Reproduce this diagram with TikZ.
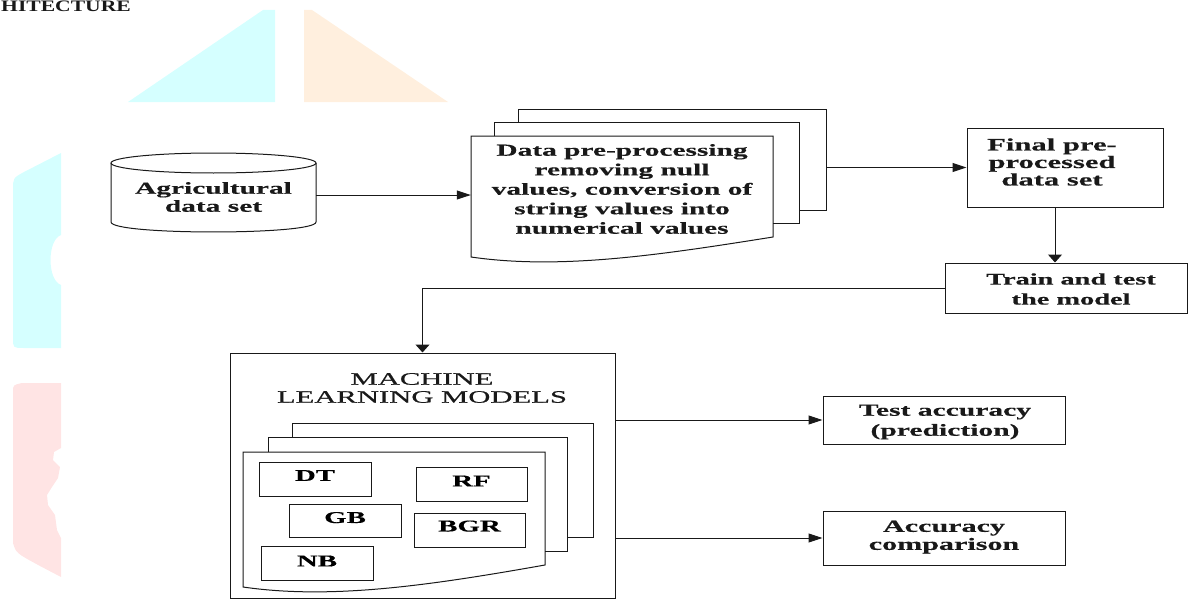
\documentclass[tikz,border=0pt]{standalone}
\usepackage{fontspec}
\newfontfamily\wf{Liberation Serif}[FakeStretch=1.75, FakeBold=0.4]
\newfontfamily\mf{Liberation Serif}[FakeStretch=1.75, FakeBold=0.6]
\newfontfamily\tf{Liberation Serif}[FakeStretch=1.35]
\usetikzlibrary{arrows.meta}
\definecolor{bgcyan}{RGB}{213,255,255}
\definecolor{bgorange}{RGB}{255,239,222}
\definecolor{bgpink}{RGB}{255,228,228}
\definecolor{ink}{RGB}{25,25,25}
\newcommand\fsz[2]{\fontsize{#1}{#2}\selectfont}
\tikzset{
  box/.style={draw=ink, line width=1pt, rectangle, inner sep=0pt},
  geo/.style={rectangle, inner sep=0pt},
  txt/.style={align=center, inner sep=0pt, text=ink},
  harr/.style={draw=ink, line width=1pt, -{Triangle[length=14pt,width=9pt]}},
  varr/.style={draw=ink, line width=1pt, -{Triangle[length=8pt,width=14pt]}},
  edge/.style={draw=ink, line width=1pt},
}
\begin{document}
\begin{tikzpicture}[x=1pt,y=-1pt]
\useasboundingbox (0,0) rectangle (1189,602);
% background fragments
\fill[bgcyan] (128,102) -- (263,10) -- (275,10) -- (275,102) -- cycle;
\fill[bgorange] (304,102) -- (304,10) -- (312,10) -- (448,102) -- cycle;
\fill[bgcyan] (61,153) -- (61,235) .. controls (47,240) and (47,280) .. (61,285) -- (61,348) -- (24,348) .. controls (13,348) .. (13,338) -- (13,190) .. controls (13,178) .. (24,172) -- cycle;
\fill[bgpink] (22,383) -- (61,383) -- (61,448) -- (54,452) -- (53,460) -- (60,467) -- (58,478) -- (52,487) -- (47,495) -- (48,505) -- (55,515) -- (57,530) -- (61,538) -- (61,577) -- (40,566) .. controls (16,553) .. (13,543) -- (13,392) .. controls (13,385) .. (22,383) -- cycle;
% title fragment
\node[anchor=base west, inner sep=0pt, text=ink, font=\tf\bfseries\fsz{16}{18}] (title) at (1,12) {HITECTURE};
% cylinder
\node[geo, minimum width=205pt, minimum height=79pt] (agri) at (213.5,192.5) {};
\draw[edge] (213.5,163) ellipse [x radius=102.5, y radius=10];
\draw[edge] (111,163) -- (111,222) .. controls (111,235.3) and (316,235.3) .. (316,222) -- (316,163);
\node[txt, font=\wf\bfseries\fsz{16.8}{18}] (agritxt) at (213.5,197) {Agricultural\\data set};
% pre-processing document stack
\node[geo, minimum width=302pt, minimum height=118pt] (prep) at (622,195) {};
\draw[edge] (518,122) -- (518,109) -- (826,109) -- (826,210) -- (799,210);
\draw[edge] (494,136) -- (494,122) -- (799,122) -- (799,223) -- (773,223);
\draw[edge] (471,136) -- (773,136) -- (773,237) .. controls (660,255) and (560,270) .. (471,257) -- cycle;
\node[txt, font=\wf\bfseries\fsz{16.8}{19.5}] (preptxt) at (622,189) {Data pre-processing\\removing null\\values, conversion of\\string values into\\numerical values};
\coordinate (prepout) at (826,167.5);
% right boxes
\node[box, minimum width=196pt, minimum height=79pt] (final) at (1065,167.5) {};
\node[txt, font=\wf\bfseries\fsz{17.5}{17.5}] (finaltxt) at (1052,162) {Final pre-\\processed\\data set};
\node[box, minimum width=242pt, minimum height=50pt] (train) at (1066,288) {};
\node[txt, font=\wf\bfseries\fsz{16.2}{20}] (traintxt) at (1071,289) {Train and test\\the model};
\node[box, minimum width=242pt, minimum height=48pt] (test) at (944,420) {};
\node[txt, font=\wf\bfseries\fsz{16.9}{20}] (testtxt) at (945,422) {Test accuracy\\(prediction)};
\node[box, minimum width=242pt, minimum height=54pt] (acc) at (944,538) {};
\node[txt, font=\wf\bfseries\fsz{17.2}{18}] (acctxt) at (944,537) {Accuracy\\comparison};
% machine learning models
\node[box, minimum width=385pt, minimum height=245pt] (ml) at (422.5,475.5) {};
\node[txt, font=\mf\fsz{17.5}{18}] (mltitle) at (422,388) {MACHINE\\LEARNING MODELS};
\draw[edge] (292,437) -- (292,423) -- (593,423) -- (593,537) -- (567,537);
\draw[edge] (268,452) -- (268,437) -- (567,437) -- (567,551) -- (545,551);
\draw[edge] (243,452) -- (545,452) -- (545,565) .. controls (432,585) and (332,600) .. (243,587) -- cycle;
\node[box, minimum width=112pt, minimum height=34pt, font=\wf\bfseries\fsz{16.5}{18}, text depth=7pt] (dt) at (315,479) {DT};
\node[box, minimum width=111pt, minimum height=34pt, font=\wf\bfseries\fsz{16.5}{18}, text depth=6pt] (rf) at (471.5,484) {RF};
\node[box, minimum width=112pt, minimum height=33pt, font=\wf\bfseries\fsz{16.5}{18}, text depth=6pt] (gb) at (345,520.5) {GB};
\node[box, minimum width=111pt, minimum height=34pt, font=\wf\bfseries\fsz{16.5}{18}, text depth=8pt] (bgr) at (469.5,530) {BGR};
\node[box, minimum width=112pt, minimum height=34pt, font=\wf\bfseries\fsz{16.5}{18}, text depth=4pt] (nb) at (317,563) {NB};
% connectors
\draw[harr] (agri.east |- prep.west) -- (prep.west);
\draw[harr] (prepout) -- (final.west);
\draw[varr] ([xshift=-10pt]final.south) -- ([xshift=-10pt]final.south |- train.north);
\draw[varr] (train.west) -| (ml.north);
\draw[harr] (ml.east |- test.west) -- (test.west);
\draw[harr] (ml.east |- acc.west) -- (acc.west);
\end{tikzpicture}
\end{document}
